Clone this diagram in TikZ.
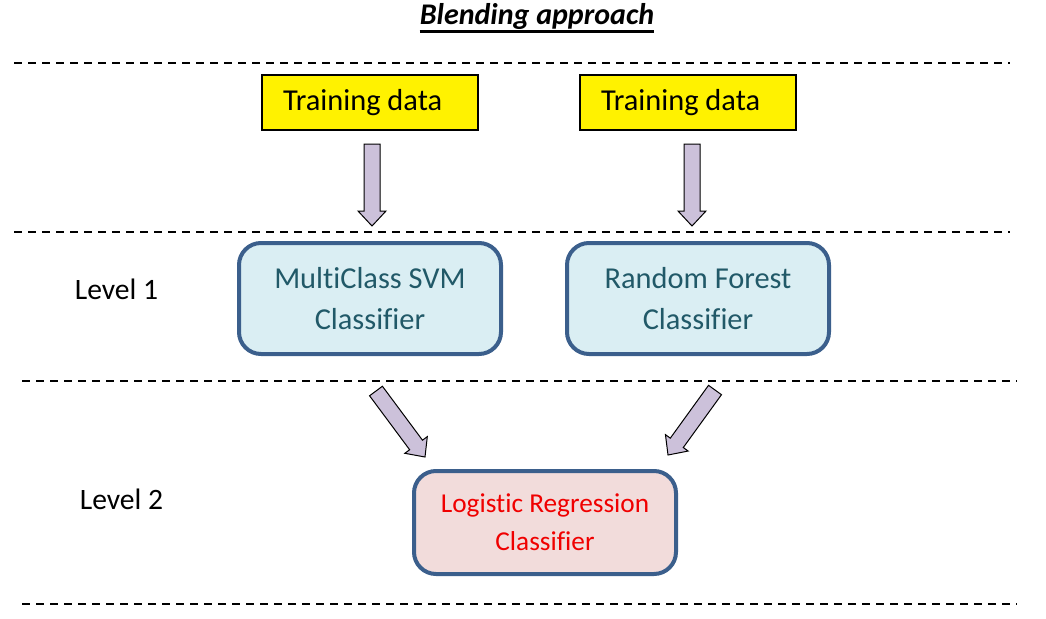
\documentclass[tikz,border=0pt]{standalone}
\usepackage{fontspec}
\setmainfont[Ligatures=NoCommon]{Carlito}
\usetikzlibrary{shapes,arrows,positioning,calc}

\definecolor{arrowfill}{HTML}{CCC1DA}
\definecolor{boxborder}{HTML}{3B5F8C}
\definecolor{bluefill}{HTML}{DAEEF3}
\definecolor{pinkfill}{HTML}{F2DCDB}
\definecolor{tealtext}{HTML}{215968}
\definecolor{redtext}{HTML}{F00000}

\begin{document}
\begin{tikzpicture}[x=1pt,y=-1pt,node distance=196pt,
    databox/.style={draw=black,line width=2pt,fill=yellow,minimum height=55pt,
        text width=174pt,inner xsep=21pt,inner ysep=0pt,align=flush left,
        font=\fontsize{30.4}{36}\selectfont},
    classbox/.style={draw=boxborder,line width=4pt,rounded corners=22pt,
        minimum width=262pt,minimum height=111pt,inner sep=0pt,align=center},
    levellabel/.style={anchor=base,font=\fontsize{29.6}{35}\selectfont},
    sepline/.style={dash pattern=on 8pt off 6pt,line width=2pt},
    fatarrow/.style={draw=black,line width=1pt,fill=arrowfill,
        to path={
        ($(\tikztostart)!8pt!90:(\tikztotarget)$)
        -- ($($(\tikztotarget)!15pt!(\tikztostart)$)!8pt!-90:(\tikztostart)$)
        -- ($($(\tikztotarget)!15pt!(\tikztostart)$)!14pt!-90:(\tikztostart)$)
        -- (\tikztotarget)
        -- ($($(\tikztotarget)!15pt!(\tikztostart)$)!14pt!90:(\tikztostart)$)
        -- ($($(\tikztotarget)!15pt!(\tikztostart)$)!8pt!90:(\tikztostart)$)
        -- ($(\tikztostart)!8pt!-90:(\tikztotarget)$) -- cycle}}]
    \useasboundingbox (0,0) rectangle (1046,618);
    %%%%%%%%%
    \node (title) [anchor=base,inner sep=0pt,font=\fontsize{30}{36}\selectfont\bfseries\itshape] at (537,25) {Blending approach};
    \draw[line width=2.5pt] ([yshift=-6.5pt]title.base west) -- ([yshift=-6.5pt]title.base east);
    %%%%%%%%%
    \draw[sepline] (14,63) -- (1010,63);
    \draw[sepline] (14,232) -- (1010,232);
    \draw[sepline] (22,381) -- (1017,381);
    \draw[sepline] (22,604) -- (1017,604);
    %%%%%%%%%
    \node (td1) [databox] at (370,102.5) {Training data};
    \node (td2) [databox, right of=td1, node distance=318pt] {Training data};
    %%%%%%%%%
    \node (svm) [classbox, fill=bluefill, below of=td1, text=tealtext,
        font=\fontsize{30.4}{41}\selectfont] {MultiClass SVM\\Classifier};
    \node (rf) [classbox, fill=bluefill, right of=svm, node distance=328pt, text=tealtext,
        font=\fontsize{30.4}{41}\selectfont] {Random Forest\\Classifier};
    %%%%%%%%%
    \node (lr) [classbox, fill=pinkfill, minimum height=103pt, text=redtext,
        font=\fontsize{27.3}{38}\selectfont] at (545,522.5) {Logistic Regression\\Classifier};
    %%%%%%%%%
    \node (l1) [levellabel] at (116.5,299) {Level 1};
    \node (l2) [levellabel] at (121.5,509) {Level 2};
    %%%%%%%%%
        \draw[fatarrow] ([xshift=2pt,yshift=-13pt]td1.south) to ([xshift=2pt,yshift=15pt]svm.north);
        \draw[fatarrow] ([xshift=4pt,yshift=-13pt]td2.south) to ([xshift=-6pt,yshift=15pt]rf.north);
        \draw[fatarrow] ([xshift=6pt,yshift=-35pt]svm.south) to ([xshift=-120pt,yshift=12pt]lr.north);
        \draw[fatarrow] ([xshift=17pt,yshift=-34pt]rf.south) to ([xshift=123pt,yshift=14pt]lr.north);
\end{tikzpicture}
\end{document}
